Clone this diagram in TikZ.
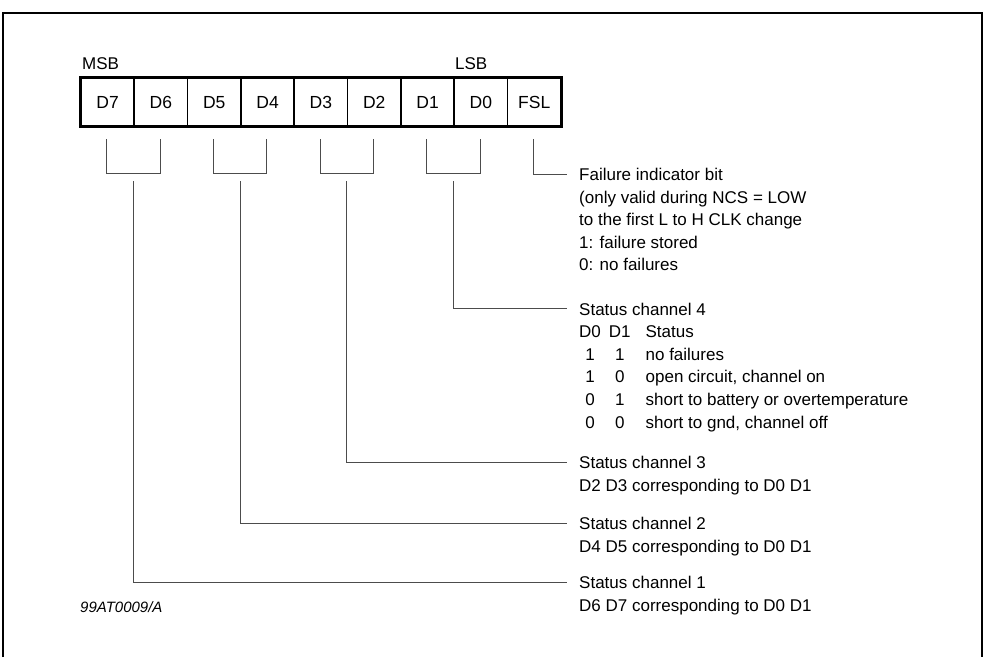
\documentclass[tikz,border=0pt]{standalone}
\usepackage{fontspec}
\setmainfont{Liberation Sans}
\begin{document}
\begin{tikzpicture}[x=1pt,y=-1pt,
  cell/.style={draw=black, line width=1.8pt, minimum width=53.33pt, minimum height=48pt, inner sep=0pt, text height=12.5pt, text depth=0pt, anchor=north west, font=\fontsize{17.5}{20}\selectfont},
  conn/.style={draw=black!70, line width=1pt},
  lbl/.style={inner sep=0pt, anchor=north west, font=\fontsize{17}{22.6}\selectfont},
  toplbl/.style={inner sep=0pt, anchor=west, font=\fontsize{17}{20}\selectfont},
]
\useasboundingbox (0,0) rectangle (986,657);
% frame
\draw[line width=2.5pt] (3,657) -- (3,13) -- (982,13) -- (982,657);
% register cells
\foreach \t [count=\i from 0] in {D7,D6,D5,D4,D3,D2,D1,D0,FSL}
  \node[cell] (c\i) at ({80+\i*53.333},77) {\t};
\draw[line width=3pt] (c0.north west) rectangle (c8.south east);
\node[toplbl] (msb) at (82,64) {MSB};
\node[toplbl] (lsb) at (455,64) {LSB};
% brackets
\foreach \k in {0,1,2,3}{
  \draw[conn] ({106.67+\k*106.667},139) -- ({106.67+\k*106.667},173) -- ({160+\k*106.667},173) -- ({160+\k*106.667},139);
}
% end coordinates of connectors
\coordinate (eF) at (567,174);
\coordinate (e4) at (567,308.5);
\coordinate (e3) at (567,462);
\coordinate (e2) at (567,523);
\coordinate (e1) at (567,582);
\draw[conn] (533.33,139) -- (533.33,174) -- (eF);
\draw[conn] (453.33,181) |- (e4);
\draw[conn] (346.67,181) |- (e3);
\draw[conn] (240,181) |- (e2);
\draw[conn] (133.33,181) |- (e1);
% texts
\node[lbl] (tF) at (579,164.5) {\begin{tabular}{@{}l@{}}Failure indicator bit\\ (only valid during NCS = LOW\\ to the first L to H CLK change\\ 1: failure stored\\ 0: no failures\end{tabular}};
\node[lbl] (t4) at (579,299) {\begin{tabular}{@{}c@{\hspace{8pt}}c@{\hspace{15pt}}l@{}}\multicolumn{3}{@{}l@{}}{Status channel 4}\\ D0 & D1 & Status\\ 1 & 1 & no failures\\ 1 & 0 & open circuit, channel on\\ 0 & 1 & short to battery or overtemperature\\ 0 & 0 & short to gnd, channel off\end{tabular}};
\node[lbl] (t3) at (579,452.5) {\begin{tabular}{@{}l@{}}Status channel 3\\ D2 D3 corresponding to D0 D1\end{tabular}};
\node[lbl] (t2) at (579,513.5) {\begin{tabular}{@{}l@{}}Status channel 2\\ D4 D5 corresponding to D0 D1\end{tabular}};
\node[lbl] (t1) at (579,572.5) {\begin{tabular}{@{}l@{}}Status channel 1\\ D6 D7 corresponding to D0 D1\end{tabular}};
\node[inner sep=0pt, anchor=west, font=\fontsize{15}{18}\selectfont\itshape] (fig) at (80,607) {99AT0009/A};
\end{tikzpicture}
\end{document}
